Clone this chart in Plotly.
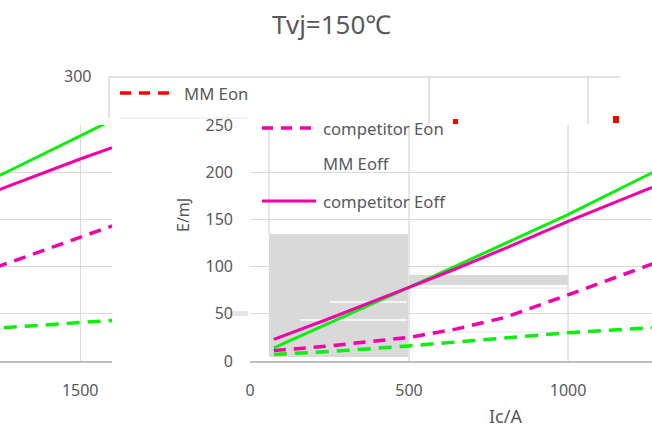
import plotly.graph_objects as go

W, H = 652, 428

# ---- data ----
ic = [75, 250, 500, 650, 800, 1000, 1250, 1500, 1600]
mm_eon = [7, 10, 16, 20, 24, 30, 35, 41, 43]
comp_eon = [11, 16, 25, 34, 46, 70, 101, 131, 143]
mm_eoff = [14, 40, 78, 101, 124, 155, 197, 238, 255]
comp_eoff = [23, 45, 78, 98, 119, 148, 182, 214, 226]

y_ticks = [0, 50, 100, 150, 200, 250]
x_ticks = [0, 500, 1000]
left_x_ticks = [1500]
title_text = "Tvj=150\u2103"
names = ["MM Eon", "competitor Eon", "MM Eoff", "competitor Eoff"]

GREEN = "#0CEE0C"
MAGENTA = "#F000A8"
RED = "#FF0000"
TXT = "#595959"
GRID = "#d9d9d9"
FONT = "Noto Sans"


def px(p):
    return p / W


def py(p):
    return 1 - p / H


fig = go.Figure()

series = [
    (mm_eoff, names[2], GREEN, "solid", 3),
    (comp_eoff, names[3], MAGENTA, "solid", 3),
    (mm_eon, names[0], GREEN, "13px,8px", 3.5),
    (comp_eon, names[1], MAGENTA, "12px,8px", 3.5),
]
for axes in (("x", "y"), ("x2", "y2")):
    for vals, nm, col, dash, w in series:
        fig.add_trace(go.Scatter(
            x=ic, y=vals, name=nm, mode="lines",
            line=dict(color=col, width=w, dash=dash),
            xaxis=axes[0], yaxis=axes[1], showlegend=False,
            hoverinfo="skip",
        ))

ydom = [py(361), py(125)]
fig.update_layout(
    width=W, height=H,
    margin=dict(l=0, r=0, t=0, b=0, autoexpand=False),
    paper_bgcolor="white", plot_bgcolor="white",
    font=dict(family=FONT, color=TXT, size=16),
    xaxis=dict(domain=[px(250), 1], range=[0, 1264], tickvals=x_ticks,
               showgrid=False, zeroline=False, showline=True, automargin=False,
               linecolor="#bfbfbf", linewidth=1.5, ticks="",
               ticklabelstandoff=14, tickfont=dict(size=16, color=TXT)),
    yaxis=dict(domain=ydom, range=[0, 250], tickvals=y_ticks, automargin=False,
               showgrid=True, gridcolor=GRID, gridwidth=1.3,
               zeroline=False, showline=False, ticks="",
               ticklabelstandoff=16, tickfont=dict(size=16, color=TXT)),
    xaxis2=dict(domain=[0, px(112)], range=[1248, 1600], tickvals=left_x_ticks,
                showgrid=True, gridcolor=GRID, gridwidth=1.3, zeroline=False,
                showline=True, linecolor="#bfbfbf", linewidth=1.5, ticks="",
                ticklabelstandoff=14, tickfont=dict(size=16, color=TXT),
                anchor="y2", automargin=False),
    yaxis2=dict(domain=ydom, range=[0, 250], tickvals=y_ticks, automargin=False,
                showgrid=True, gridcolor=GRID, gridwidth=1.3, zeroline=False,
                showticklabels=False, showline=False, anchor="x2"),
)

shapes = []
# vertical gridlines of the main panel
for xv in [500, 1000]:
    shapes.append(dict(type="line", xref="x", yref="paper", x0=xv, x1=xv,
                       y0=py(361), y1=py(125), line=dict(color=GRID, width=1.3),
                       layer="between"))
# grey block and stray grey band
shapes.append(dict(type="rect", xref="paper", yref="paper",
                   x0=px(269), x1=px(408), y0=py(357), y1=py(234),
                   fillcolor="#d9d9d9", line=dict(width=0), layer="between"))
shapes.append(dict(type="rect", xref="paper", yref="paper",
                   x0=px(409), x1=px(568), y0=py(285), y1=py(275),
                   fillcolor="#d9d9d9", line=dict(width=0), layer="between"))
shapes.append(dict(type="line", xref="paper", yref="paper",
                   x0=px(409), x1=px(568), y0=py(288), y1=py(288),
                   line=dict(color="#e3e3e3", width=1), layer="between"))
shapes.append(dict(type="line", xref="paper", yref="paper",
                   x0=px(409), x1=px(568), y0=py(332), y1=py(332),
                   line=dict(color="#e3e3e3", width=1), layer="between"))
for yy, x0 in [(302, 330), (320, 300)]:
    shapes.append(dict(type="line", xref="paper", yref="paper",
                       x0=px(x0), x1=px(407), y0=py(yy), y1=py(yy),
                       line=dict(color="white", width=1.5), layer="between"))
# stray vertical line at x=269
shapes.append(dict(type="line", xref="paper", yref="paper",
                   x0=px(269), x1=px(269), y0=py(234), y1=py(125),
                   line=dict(color=GRID, width=1.3), layer="between"))
# "50" label glitch lines
shapes.append(dict(type="rect", xref="paper", yref="paper",
                   x0=px(230), x1=px(248), y0=py(316), y1=py(311),
                   fillcolor="#e6e6e6", line=dict(width=0), layer="below"))
# top box (legend frame remnants)
shapes.append(dict(type="line", xref="paper", yref="paper",
                   x0=px(109), x1=px(620), y0=py(77), y1=py(77),
                   line=dict(color=GRID, width=1.5)))
shapes.append(dict(type="line", xref="paper", yref="paper",
                   x0=px(109), x1=px(109), y0=py(77), y1=py(118),
                   line=dict(color=GRID, width=1.5)))
shapes.append(dict(type="line", xref="paper", yref="paper",
                   x0=px(120), x1=px(247), y0=py(118), y1=py(118),
                   line=dict(color="#e6e6e6", width=1)))
for xx in [429, 588]:
    shapes.append(dict(type="line", xref="paper", yref="paper",
                       x0=px(xx), x1=px(xx), y0=py(77), y1=py(124),
                       line=dict(color=GRID, width=1.5)))
# red fragments
shapes.append(dict(type="rect", xref="paper", yref="paper",
                   x0=px(453), x1=px(458), y0=py(124), y1=py(119),
                   fillcolor=RED, line=dict(width=0)))
shapes.append(dict(type="rect", xref="paper", yref="paper",
                   x0=px(613), x1=px(619), y0=py(123), y1=py(116),
                   fillcolor=RED, line=dict(width=0)))
# legend keys
shapes.append(dict(type="line", xref="paper", yref="paper",
                   x0=px(120), x1=px(176), y0=py(93), y1=py(93),
                   line=dict(color=RED, width=3.5, dash="11px,8px")))
shapes.append(dict(type="line", xref="paper", yref="paper",
                   x0=px(262), x1=px(316), y0=py(128), y1=py(128),
                   line=dict(color=MAGENTA, width=3.5, dash="11px,8px")))
shapes.append(dict(type="line", xref="paper", yref="paper",
                   x0=px(262), x1=px(316), y0=py(201), y1=py(201),
                   line=dict(color=MAGENTA, width=3)))
fig.update_layout(shapes=shapes)

ann = []
ann.append(dict(text=title_text, x=px(332), y=py(24), xref="paper", yref="paper",
                showarrow=False, xanchor="center", yanchor="middle",
                font=dict(size=26, color=TXT, family=FONT)))
ann.append(dict(text="E/mJ", x=px(183), y=py(215), xref="paper", yref="paper",
                showarrow=False, textangle=-90, xanchor="center", yanchor="middle",
                font=dict(size=16, color=TXT, family=FONT)))
ann.append(dict(text="Ic/A", x=px(505), y=py(416), xref="paper", yref="paper",
                showarrow=False, xanchor="center", yanchor="middle",
                font=dict(size=18, color=TXT, family=FONT)))
ann.append(dict(text="300", x=px(77), y=py(76), xref="paper", yref="paper",
                showarrow=False, xanchor="center", yanchor="middle",
                font=dict(size=16, color=TXT, family=FONT)))
for txt, xx, yy in [(names[0], 182, 93), (names[1], 321, 129),
                    (names[2], 321, 164), (names[3], 321, 201)]:
    ann.append(dict(text=txt, x=px(xx), y=py(yy), xref="paper", yref="paper",
                    showarrow=False, xanchor="left", yanchor="middle",
                    font=dict(size=16.7, color=TXT, family=FONT)))
fig.update_layout(annotations=ann)

fig.write_html(
    "out.html",
    config={"displayModeBar": False},
    post_script="document.body.style.margin='0';document.body.style.padding='0';"
                "document.documentElement.style.overflow='hidden';",
)
